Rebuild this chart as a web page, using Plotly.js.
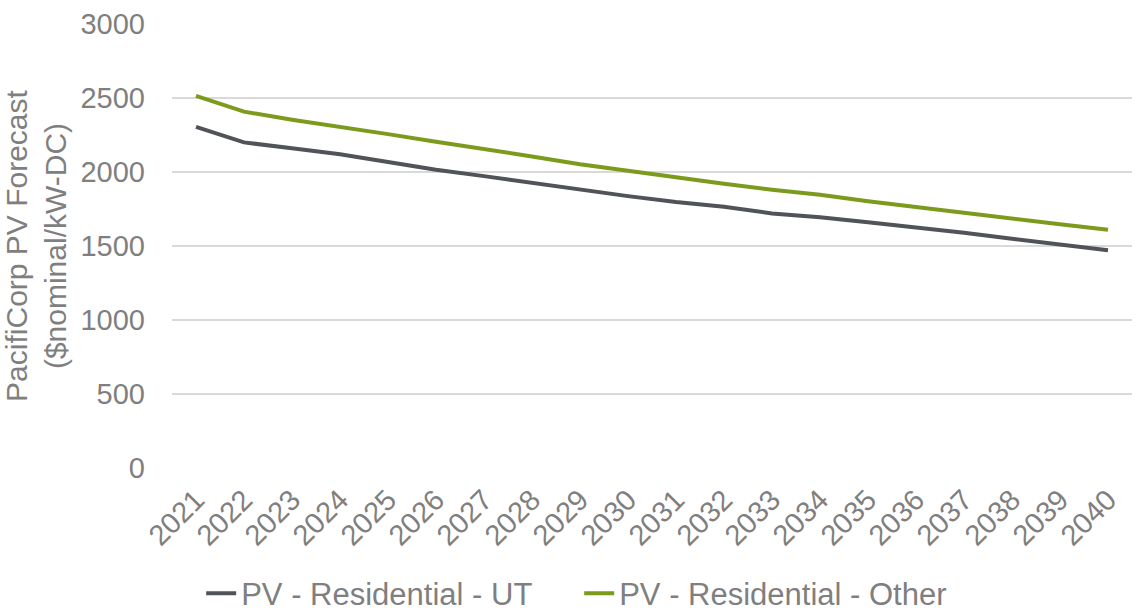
<!DOCTYPE html>
<html>
<head>
<meta charset="utf-8">
<script src="https://cdn.plot.ly/plotly-3.0.1.min.js"></script>
<style>
html,body{margin:0;padding:0;background:#fff;}
#chart{width:1136px;height:612px;}
</style>
</head>
<body>
<div id="chart"></div>
<script>
const years = ["2021","2022","2023","2024","2025","2026","2027","2028","2029","2030",
               "2031","2032","2033","2034","2035","2036","2037","2038","2039","2040"];
const residentialUT = [2305, 2200, 2160, 2120, 2068, 2015, 1972, 1925, 1880, 1837,
                       1797, 1765, 1720, 1695, 1660, 1627, 1589, 1549, 1511, 1472];
const residentialOther = [2515, 2408, 2353, 2306, 2256, 2205, 2158, 2105, 2052, 2006,
                          1966, 1920, 1880, 1846, 1802, 1762, 1722, 1683, 1647, 1610];
const seriesNames = ["PV - Residential - UT", "PV - Residential - Other"];
const yTickVals = [0, 500, 1000, 1500, 2000, 2500, 3000];

const textColor = "#7f7f7f";
const font = "Liberation Sans, Arial, sans-serif";

const traces = [
  {x: years, y: residentialUT, name: seriesNames[0], type: "scatter", mode: "lines",
   line: {color: "#505357", width: 4}},
  {x: years, y: residentialOther, name: seriesNames[1], type: "scatter", mode: "lines",
   line: {color: "#7c9b1c", width: 4}}
];

const layout = {
  width: 1136, height: 612,
  margin: {l: 172, r: 4, t: 24, b: 144},
  paper_bgcolor: "#fff", plot_bgcolor: "#fff",
  font: {family: font, color: textColor, size: 30},
  showlegend: true,
  legend: {
    orientation: "h", x: 0.0304, xanchor: "left", yref: "container", y: 0.03, yanchor: "middle",
    font: {family: font, size: 31, color: textColor},
    entrywidth: 333, entrywidthmode: "pixels", itemwidth: 30, tracegroupgap: 0
  },
  xaxis: {
    type: "category", range: [-0.5, 19.5], tickangle: -45, showgrid: false, zeroline: false, showline: false,
    ticks: "", tickfont: {family: font, size: 29, color: textColor}, ticklabelstandoff: 8,
    fixedrange: true
  },
  yaxis: {
    range: [0, 3000], tickvals: yTickVals, showgrid: true, gridcolor: "#d9d9d9", gridwidth: 1.5,
    zeroline: false, showline: false, ticks: "",
    tickfont: {family: font, size: 29, color: textColor}, ticklabelstandoff: 26,
    title: {text: "PacifiCorp PV Forecast<br>($nominal/kW-DC)", font: {family: font, size: 30, color: textColor}, standoff: 6},
    automargin: false, fixedrange: true
  }
};

Plotly.newPlot("chart", traces, layout, {displayModeBar: false, staticPlot: true});
</script>
</body>
</html>
